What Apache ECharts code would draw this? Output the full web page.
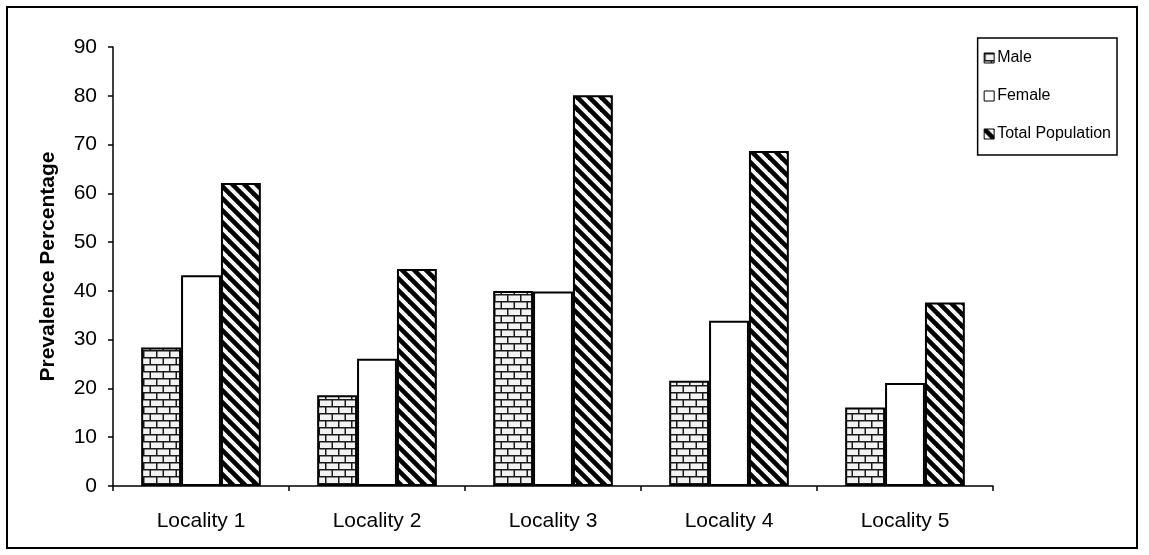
<!DOCTYPE html>
<html>
<head>
<meta charset="utf-8">
<script src="https://cdn.jsdelivr.net/npm/echarts@6/dist/echarts.min.js"></script>
<style>
  html, body { margin: 0; padding: 0; background: #fff; }
  #chart { width: 1149px; height: 555px; }
</style>
</head>
<body>
<div id="chart"></div>
<script>
// Prevalence by locality
const categories = ['Locality 1', 'Locality 2', 'Locality 3', 'Locality 4', 'Locality 5'];
const maleValues = [28.4, 18.6, 40.0, 21.6, 16.1];
const femaleValues = [43.2, 26.1, 39.9, 33.9, 21.1];
const totalValues = [62.1, 44.5, 80.1, 68.7, 37.6];
const seriesNames = ['Male', 'Female', 'Total Population'];

const FONT = '"Liberation Sans", Arial, Helvetica, sans-serif';

// Horizontal brick fill
function brickPattern() {
  const w = 13, h = 14;
  const c = document.createElement('canvas');
  c.width = w; c.height = h;
  const g = c.getContext('2d');
  g.fillStyle = '#f2f2f2';
  g.fillRect(0, 0, w, h);
  g.fillStyle = '#1a1a1a';
  g.fillRect(0, 0, w, 1.5);
  g.fillRect(0, 7, w, 1.5);
  g.fillRect(0, 0, 1.5, 7);
  g.fillRect(6.5, 7, 1.5, 7);
  return c;
}

// Wide downward diagonal stripes
function stripePattern() {
  const s = 12;
  const c = document.createElement('canvas');
  c.width = s; c.height = s;
  const g = c.getContext('2d');
  g.fillStyle = '#f6f6f6';
  g.fillRect(0, 0, s, s);
  g.strokeStyle = '#000';
  g.lineWidth = 4.6;
  for (let k = -1; k <= 1; k++) {
    g.beginPath();
    g.moveTo(-s, -s + k * s);
    g.lineTo(2 * s, 2 * s + k * s);
    g.stroke();
  }
  return c;
}

const fills = [
  { image: brickPattern(), repeat: 'repeat' },
  '#ffffff',
  { image: stripePattern(), repeat: 'repeat' }
];
const valueSets = [maleValues, femaleValues, totalValues];

const chart = echarts.init(document.getElementById('chart'), null, { renderer: 'canvas' });

chart.setOption({
  animation: false,
  backgroundColor: '#ffffff',
  textStyle: { fontFamily: FONT, color: '#000' },
  graphic: [{
    type: 'rect',
    shape: { x: 7, y: 7, width: 1130, height: 541 },
    style: { fill: 'none', stroke: '#000', lineWidth: 2 },
    silent: true
  }],
  legend: {
    orient: 'vertical',
    right: 32,
    top: 38,
    itemWidth: 10,
    itemHeight: 10,
    itemGap: 22,
    icon: 'rect',
    padding: [12, 6, 13, 6],
    borderColor: '#000',
    borderWidth: 1.5,
    backgroundColor: '#fff',
    itemStyle: { borderColor: '#000', borderWidth: 1 },
    textStyle: { fontFamily: FONT, fontSize: 16, color: '#000', padding: [0, 0, 0, -2] },
    data: seriesNames
  },
  grid: { left: 113, right: 156, top: 47, bottom: 69, containLabel: false },
  xAxis: {
    type: 'category',
    data: categories,
    boundaryGap: true,
    axisLine: { show: true, lineStyle: { color: '#000', width: 1.5 } },
    axisTick: { show: true, inside: false, length: 5, alignWithLabel: false, lineStyle: { color: '#000', width: 1.5 } },
    axisLabel: { fontFamily: FONT, fontSize: 21, color: '#000', margin: 25 },
    splitLine: { show: false }
  },
  yAxis: {
    type: 'value',
    min: 0,
    max: 90,
    interval: 10,
    name: 'Prevalence Percentage',
    nameLocation: 'middle',
    nameRotate: 90,
    nameGap: 54,
    nameTextStyle: { fontFamily: FONT, fontSize: 21, fontWeight: 'bold', color: '#000' },
    axisLine: { show: true, lineStyle: { color: '#000', width: 1.5 } },
    axisTick: { show: true, inside: false, length: 5, lineStyle: { color: '#000', width: 1.5 } },
    axisLabel: { fontFamily: FONT, fontSize: 21, color: '#000', margin: 16 },
    splitLine: { show: false }
  },
  series: seriesNames.map((name, i) => ({
    name: name,
    type: 'bar',
    data: valueSets[i],
    barGap: '0%',
    barCategoryGap: '32%',
    itemStyle: { color: fills[i], borderColor: '#000', borderWidth: 2 }
  }))
});
</script>
</body>
</html>
